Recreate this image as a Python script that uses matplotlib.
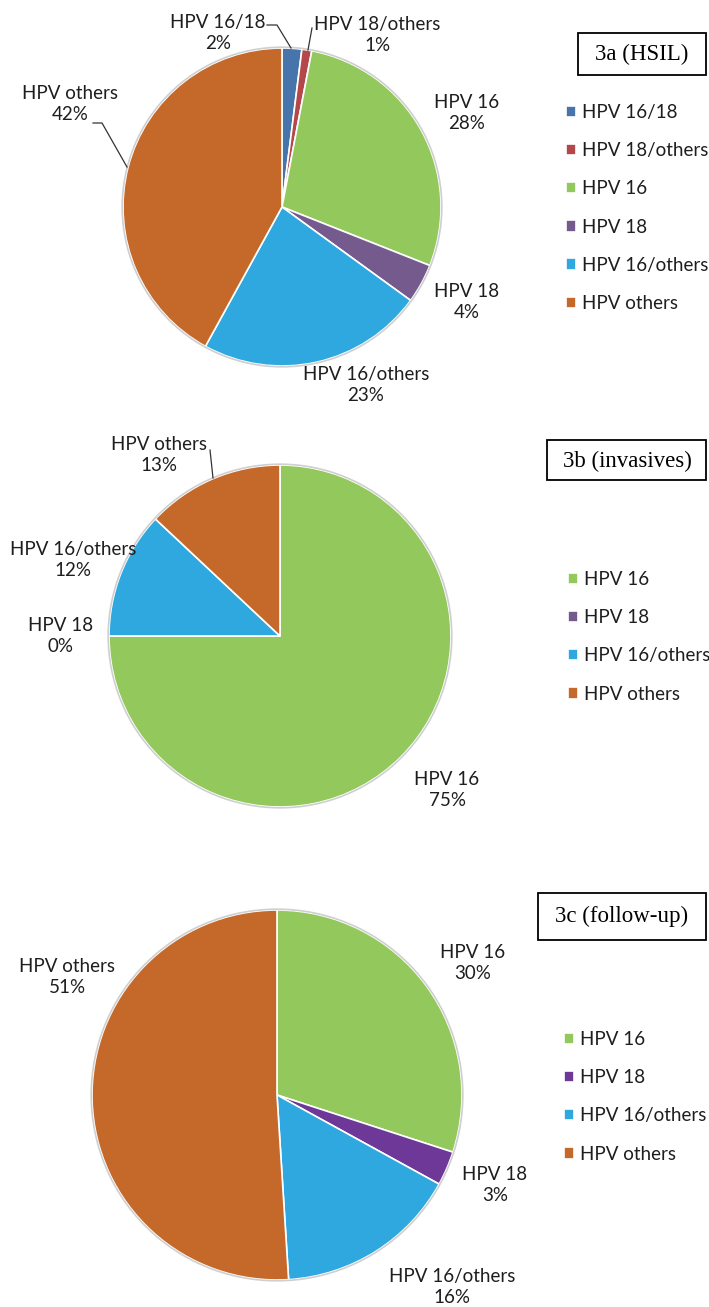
import matplotlib.pyplot as plt
from matplotlib.patches import Circle, Rectangle

# ---- data (percent of cases) ----
hsilLabels = ["HPV 16/18", "HPV 18/others", "HPV 16", "HPV 18", "HPV 16/others", "HPV others"]
hsilValues = [2, 1, 28, 4, 23, 42]

invLabels = ["HPV 16", "HPV 18", "HPV 16/others", "HPV others"]
invValues = [75, 0, 12, 13]

fupLabels = ["HPV 16", "HPV 18", "HPV 16/others", "HPV others"]
fupValues = [30, 3, 16, 51]

titles = ["3a (HSIL)", "3b (invasives)", "3c (follow-up)"]

colorMap = {
    "HPV 16/18": "#4774AA",
    "HPV 18/others": "#B4474A",
    "HPV 16": "#92C85C",
    "HPV 18": "#755A8E",
    "HPV 16/others": "#2EA8DE",
    "HPV others": "#C5692A",
}
fupPurple = "#6E3899"

# ---- layout in pixel units (figure is 709 x 1307 px) ----
W, H = 709, 1307
LABEL_FONT = ["Lato", "DejaVu Sans"]
FS = 13.5

panels = [
    dict(labels=hsilLabels, values=hsilValues, center=(282, 207), radius=159,
         labelPos=[(218, 33), (377, 35), (467, 113), (467, 302), (366, 385), (70, 104)],
         leaders=[[(267, 25), (277, 25), (291, 48)],
                  [(312, 28), (308, 50)],
                  [(93, 123), (102, 123), (127, 167)]],
         box=(578, 33, 128, 42), titlePos=(642, 54), legendTop=(566, 114)),
    dict(labels=invLabels, values=invValues, center=(280, 636), radius=171,
         labelPos=[(447, 790), (61, 636), (73, 560), (159, 455)],
         leaders=[[(210, 450), (213, 478)]],
         box=(547, 440, 159, 40), titlePos=(627, 461), legendTop=(568, 581)),
    dict(labels=fupLabels, values=fupValues, center=(277, 1095), radius=185,
         labelPos=[(473, 963), (495, 1185), (452, 1287), (67, 977)],
         leaders=[],
         box=(538, 893, 168, 47), titlePos=(622, 916), legendTop=(564, 1041)),
]

fig = plt.figure(figsize=(W / 100, H / 100), dpi=100)
ax = fig.add_axes([0, 0, 1, 1])

for i, p in enumerate(panels):
    cols = [colorMap[l] for l in p["labels"]]
    if i == 2:
        cols = [fupPurple if l == "HPV 18" else c for l, c in zip(p["labels"], cols)]
    # y axis is inverted below, so counterclockwise in data = clockwise on screen
    wedges, _ = ax.pie(p["values"], colors=cols, center=p["center"], radius=p["radius"],
                       startangle=-90, counterclock=True,
                       wedgeprops=dict(edgecolor="white", linewidth=1.2))
    ax.add_patch(Circle(p["center"], p["radius"] + 0.8, fill=False,
                        edgecolor="#cfcfcf", linewidth=1.2))

    for lab, val, pos in zip(p["labels"], p["values"], p["labelPos"]):
        ax.text(pos[0], pos[1], f"{lab}\n{val}%", ha="center", va="center",
                fontsize=FS, family=LABEL_FONT, color="#1e1e1e", linespacing=1.25)
    for ln in p["leaders"]:
        xs, ys = zip(*ln)
        ax.plot(xs, ys, color="#333333", linewidth=0.9)

    bx, by, bw, bh = p["box"]
    ax.add_patch(Rectangle((bx, by), bw, bh, fill=False, edgecolor="black", linewidth=1.3))
    ax.text(p["titlePos"][0], p["titlePos"][1], titles[i], ha="center", va="center",
            fontsize=16.5, family="Liberation Serif", color="black")

    leg = ax.legend(wedges, p["labels"], loc="upper left",
                    bbox_to_anchor=(p["legendTop"][0], p["legendTop"][1] - 10),
                    bbox_transform=ax.transData, frameon=False,
                    prop=dict(family=LABEL_FONT, size=FS),
                    handlelength=0.55, handleheight=0.55, handletextpad=0.3,
                    labelspacing=1.13, borderpad=0, borderaxespad=0)
    for t in leg.get_texts():
        t.set_color("#1e1e1e")
    ax.add_artist(leg)

# every legend is already an artist; avoid drawing the last one twice
ax.legend_ = None

ax.set_xlim(0, W)
ax.set_ylim(H, 0)
ax.set_aspect("equal")
ax.axis("off")

fig.savefig("out.png", dpi=100, facecolor="white")
